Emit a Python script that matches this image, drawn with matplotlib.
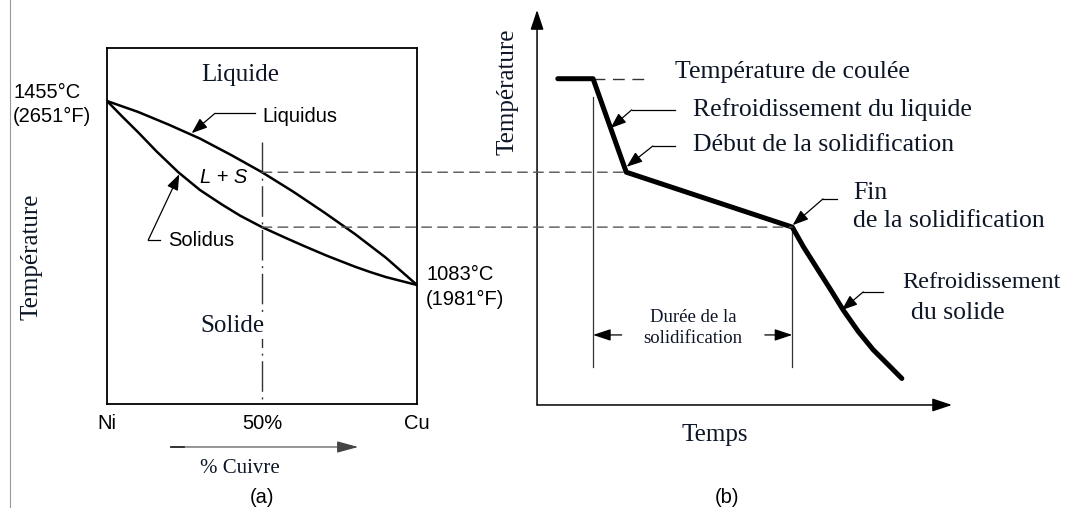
import matplotlib.pyplot as plt
from matplotlib.patches import ConnectionPatch
from matplotlib.lines import Line2D

# (a) diagramme de phases Ni-Cu : % Cu -> température (°C)
liq_cu = [0, 10, 20, 30, 40, 50, 60, 70, 80, 90, 100]
liq_T = [1455, 1433, 1407, 1379, 1346, 1311, 1272, 1230, 1186, 1138, 1083]
sol_cu = [0, 5, 10, 16, 23, 30, 37, 43, 50, 57, 63.5, 71, 80, 85, 90, 95, 100]
sol_T = [1455, 1423, 1392, 1353, 1311, 1275, 1246, 1223, 1200, 1180, 1162,
         1142, 1120, 1109, 1099, 1091, 1083]
comp_ticks = [0, 50, 100]
comp_labels = ["Ni", "50%", "Cu"]

# (b) courbe de refroidissement : temps (u.a.) -> température (°C)
cool_t = [5, 13.5, 21.5, 61.5, 64.2, 68.2, 71.0, 73.8, 77.4, 81.0, 84.7, 87.9]
cool_T = [1500, 1500, 1311, 1200, 1160, 1107, 1070, 1032, 989, 952, 921, 894]

SERIF = "Liberation Serif"
SANS = "Liberation Sans"
INK = "#0d1626"

fig = plt.figure(figsize=(10.66, 5.08), dpi=100)
ax1 = fig.add_axes([0.1004, 0.2047, 0.2908, 0.7008])
ax2 = fig.add_axes([0.5038, 0.2028, 0.3893, 0.7776])

# ---------- (a) ----------
ax1.set_xlim(0, 100)
ax1.set_ylim(842.4, 1562.2)
for s in ax1.spines.values():
    s.set_linewidth(1.3)
ax1.set_yticks([])
ax1.set_xticks(comp_ticks, comp_labels, family=SANS, fontsize=14.5)
ax1.tick_params(axis="x", length=0, pad=7)

ax1.plot(liq_cu, liq_T, color="k", lw=1.8, solid_joinstyle="round", zorder=3)
ax1.plot(sol_cu, sol_T, color="k", lw=1.8, solid_joinstyle="round", zorder=3)
ax1.plot([50, 50], [1372, 842.4], color="#333", lw=1,
         linestyle=(0, (22, 4, 1.5, 4)), zorder=2)

ax1.text(42.9, 1507, "Liquide", family=SERIF, fontsize=18, color=INK,
         ha="center", va="center")
ax1.text(40.6, 1000, "Solide", family=SERIF, fontsize=18, color=INK,
         ha="center", va="center",
         bbox=dict(facecolor="white", edgecolor="none", pad=1), zorder=4)
ax1.text(37.7, 1301, "L + S", family=SANS, style="italic", fontsize=14.5,
         ha="center", va="center")

ax1.text(50, 1423, "Liquidus", family=SANS, fontsize=14.5, ha="left", va="center")
ax1.plot([47.7, 34.8], [1430, 1430], color="k", lw=0.9)
ax1.annotate("", xy=(27.3, 1390), xytext=(34.8, 1430),
             arrowprops=dict(arrowstyle="-|>,head_length=0.8,head_width=0.3",
                             mutation_scale=12, lw=0.9, color="k",
                             shrinkA=0, shrinkB=0))
ax1.text(19.7, 1174, "Solidus", family=SANS, fontsize=14.5, ha="left", va="center")
ax1.plot([17.1, 13.3], [1174, 1174], color="k", lw=0.9)
ax1.annotate("", xy=(23.3, 1307), xytext=(13.3, 1174),
             arrowprops=dict(arrowstyle="-|>,head_length=0.8,head_width=0.3",
                             mutation_scale=12, lw=0.9, color="k",
                             shrinkA=0, shrinkB=0))

ax1.text(-30.3, 1473, "1455°C", family=SANS, fontsize=14.5, ha="left", va="center")
ax1.text(-30.3, 1423, "(2651°F)", family=SANS, fontsize=14.5, ha="left", va="center")
ax1.text(102.9, 1105, "1083°C", family=SANS, fontsize=14.5, ha="left", va="center")
ax1.text(102.9, 1053, "(1981°F)", family=SANS, fontsize=14.5, ha="left", va="center")
ax1.text(-24.5, 1140, "Température", family=SERIF, fontsize=18, color=INK,
         rotation=90, ha="center", va="center")

ax1.annotate("", xy=(81, 755.5), xytext=(20.6, 755.5), annotation_clip=False,
             arrowprops=dict(arrowstyle="-|>,head_length=1.1,head_width=0.3",
                             mutation_scale=12, lw=0.8, color="#444",
                             shrinkA=0, shrinkB=0))
ax1.plot([20.6, 24.7], [755.5, 755.5], color="k", lw=1.2, clip_on=False)
ax1.text(42.9, 713, "% Cuivre", family=SERIF, fontsize=15, color=INK,
         ha="center", va="center")
ax1.text(50, 654, "(a)", family=SANS, fontsize=14.5, ha="center", va="center")

# ---------- (b) ----------
ax2.set_xlim(0, 100)
ax2.set_ylim(840.4, 1639)
for s in ax2.spines.values():
    s.set_visible(False)
ax2.set_xticks([])
ax2.set_yticks([])
axis_arrow = dict(arrowstyle="-|>,head_length=0.6,head_width=0.2",
                  mutation_scale=20, lw=1.1, color="k", shrinkA=0, shrinkB=0)
ax2.annotate("", xy=(0, 1), xytext=(0, 0), xycoords="axes fraction",
             arrowprops=axis_arrow)
ax2.annotate("", xy=(1, 0), xytext=(0, 0), xycoords="axes fraction",
             arrowprops=axis_arrow)

ax2.plot(cool_t, cool_T, color="k", lw=3.6, solid_joinstyle="round",
         solid_capstyle="round", zorder=3)
ax2.plot([cool_t[1], 27.2], [cool_T[0], cool_T[0]], color="#333", lw=1,
         linestyle=(0, (8.5, 5.5)))
ax2.plot([cool_t[1], cool_t[1]], [1463, 917], color="#333", lw=0.9)
ax2.plot([cool_t[3], cool_t[3]], [cool_T[3], 917], color="#333", lw=0.9)

dim_arrow = dict(arrowstyle="-|>,head_length=0.9,head_width=0.3",
                 mutation_scale=12, lw=0.9, color="k", shrinkA=0, shrinkB=0)
ax2.annotate("", xy=(cool_t[1], 982), xytext=(20.4, 982), arrowprops=dim_arrow)
ax2.annotate("", xy=(cool_t[3], 982), xytext=(54.9, 982), arrowprops=dim_arrow)
ax2.text(37.6, 1018, "Durée de la", family=SERIF, fontsize=13.5, color=INK,
         ha="center", va="center")
ax2.text(37.6, 974, "solidification", family=SERIF, fontsize=13.5, color=INK,
         ha="center", va="center")

ax2.text(33.3, 1513, "Température de coulée", family=SERIF, fontsize=18.5,
         color=INK, ha="left", va="center")
ax2.text(37.5, 1437, "Refroidissement du liquide", family=SERIF, fontsize=18.5,
         color=INK, ha="left", va="center")
ax2.text(37.5, 1365, "Début de la solidification", family=SERIF, fontsize=18.5,
         color=INK, ha="left", va="center")
ax2.text(76.1, 1269, "Fin", family=SERIF, fontsize=18.5, color=INK,
         ha="left", va="center")
ax2.text(76.1, 1212, "de la solidification", family=SERIF, fontsize=18.5,
         color=INK, ha="left", va="center")
ax2.text(88.0, 1087, "Refroidissement", family=SERIF, fontsize=17.4,
         color=INK, ha="left", va="center")
ax2.text(90.0, 1026, "du solide", family=SERIF, fontsize=18.5,
         color=INK, ha="left", va="center")

leader = dict(arrowstyle="-|>,head_length=0.8,head_width=0.3",
              mutation_scale=12, lw=0.9, color="k", shrinkA=0, shrinkB=0)
for (xa, xb, y), tip in [((33.3, 22.8, 1437), (17.7, 1400)),
                         ((33.3, 27.9, 1364), (21.6, 1322)),
                         ((72.2, 68.9, 1257), (61.6, 1204)),
                         ((83.4, 78.6, 1069), (73.4, 1032))]:
    ax2.plot([xa, xb], [y, y], color="k", lw=0.9)
    ax2.annotate("", xy=tip, xytext=(xb, y), arrowprops=leader)

ax2.text(42.9, 780, "Temps", family=SERIF, fontsize=18, color=INK,
         ha="center", va="center")
ax2.text(-7.2, 1473, "Température", family=SERIF, fontsize=18, color=INK,
         rotation=90, ha="center", va="center")
ax2.text(45.8, 654, "(b)", family=SANS, fontsize=14.5, ha="center", va="center")

# lignes pointillées reliant (a) et (b)
for tt, TT in [(cool_t[2], cool_T[2]), (cool_t[3], cool_T[3])]:
    fig.add_artist(ConnectionPatch(xyA=(50, TT), coordsA=ax1.transData,
                                   xyB=(tt, TT), coordsB=ax2.transData,
                                   color="#555", lw=1, linestyle=(0, (7, 4.5))))

fig.add_artist(Line2D([10 / 1066, 10 / 1066], [0, 1], color="#999", lw=0.8))

fig.savefig("out.png", dpi=100)
